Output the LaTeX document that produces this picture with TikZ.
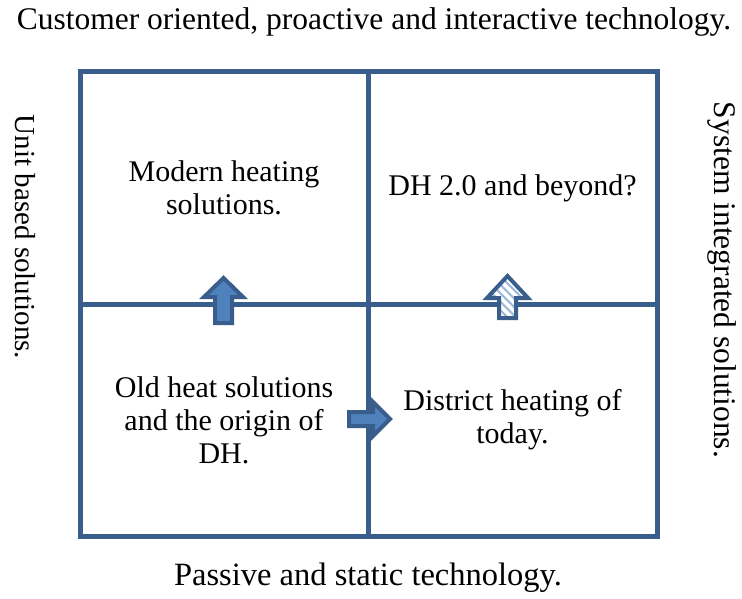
\documentclass[tikz,border=0pt]{standalone}
\usepackage{fontspec}
\setmainfont{Liberation Serif}
\usetikzlibrary{patterns.meta}
\definecolor{gridblue}{HTML}{3A5E8C}
\definecolor{arrowblue}{HTML}{4F81BD}

\begin{document}
\begin{tikzpicture}[x=1pt,y=-1pt,
  quad/.style={draw=gridblue,line width=5pt,minimum width=288pt,minimum height=232pt,
    inner sep=0pt,align=center,font=\fontsize{30}{33}\selectfont},
  caption/.style={font=\fontsize{31.5}{33}\selectfont,inner sep=0pt},
  blockarr/.style={draw=gridblue,line width=4pt,line join=miter,fill=arrowblue},
  hatcharr/.style={draw=gridblue,line width=4pt,line join=miter,
    preaction={fill=white},
    pattern={Lines[angle=-45,distance=6pt,line width=2.2pt]},pattern color=arrowblue!55}
]
\useasboundingbox[fill=white] (0,0) rectangle (742,599);

% the four quadrants
\node[quad] (tl) at (224,188) {Modern heating\\solutions.};
\node[quad,minimum width=289pt] (tr) at (512.5,188) {DH 2.0 and beyond?};
\node[quad] (bl) at (224,420) {Old heat solutions\\and the origin of\\DH.};
\node[quad,minimum width=289pt] (br) at (512.5,420) {District heating of\\today.};

% axis captions
\node[caption] (top) at (374,22) {Customer oriented, proactive and interactive technology.};
\node[caption,font=\fontsize{32.5}{33}\selectfont] (bottom) at (368,578) {Passive and static technology.};
\node[caption,rotate=-90,font=\fontsize{29}{33}\selectfont] (left) at (25,237) {Unit based solutions.};
\node[caption,rotate=-90] (right) at (722,280) {System integrated solutions.};

% transitions between quadrants
\draw[blockarr] (215,323) -- (215,297) -- (204,297) -- (223.5,278)
  -- (243,297) -- (232,297) -- (232,323) -- cycle;
\draw[hatcharr] (499,318) -- (499,298) -- (487,298) -- (507.5,276)
  -- (528,298) -- (516,298) -- (516,318) -- cycle;
\draw[blockarr] (349,412) -- (373,412) -- (373,402) -- (390,419)
  -- (373,436) -- (373,426) -- (349,426) -- cycle;
\end{tikzpicture}
\end{document}
